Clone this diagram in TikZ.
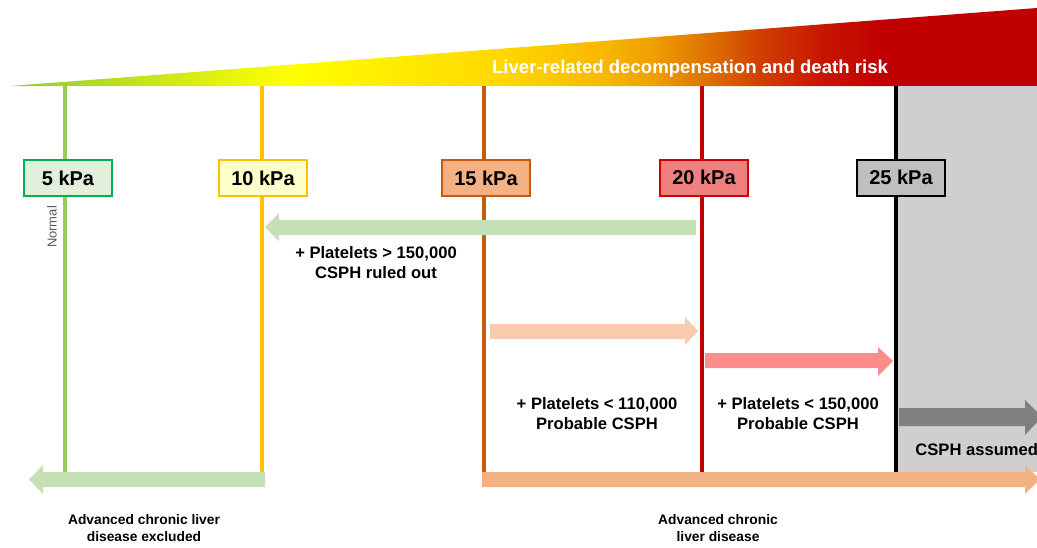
\documentclass[tikz,border=0pt]{standalone}
\usepackage{fontspec}
\setmainfont{Liberation Sans}
\definecolor{rsA}{HTML}{8CCB3C}
\definecolor{rsB}{HTML}{C8E41E}
\definecolor{rsC}{HTML}{FFFF00}
\definecolor{rsD}{HTML}{FFD800}
\definecolor{rsE}{HTML}{F8B800}
\definecolor{rsF}{HTML}{F0A000}
\definecolor{rsG}{HTML}{E07800}
\definecolor{rsH}{HTML}{D04000}
\definecolor{rsI}{HTML}{C81800}
\definecolor{rsJ}{HTML}{C00000}
\pgfdeclarehorizontalshading{riskshade}{100bp}{color(0bp)=(rsA); color(25bp)=(rsA); color(31.8bp)=(rsB); color(38.6bp)=(rsC); color(48.9bp)=(rsD); color(53.8bp)=(rsE); color(56.2bp)=(rsF); color(58.6bp)=(rsG); color(61.5bp)=(rsH); color(64.4bp)=(rsI); color(67.4bp)=(rsJ); color(100bp)=(rsJ)}
\definecolor{cgreen}{HTML}{92D050}
\definecolor{cyellow}{HTML}{FFC000}
\definecolor{cbrown}{HTML}{C55A11}
\definecolor{cred}{HTML}{C00000}
\definecolor{cgrayreg}{HTML}{D0CECE}
\definecolor{fgreen}{HTML}{E2EFDA}
\definecolor{dgreen}{HTML}{00B050}
\definecolor{fyellow}{HTML}{FFFFCC}
\definecolor{forange}{HTML}{F4B183}
\definecolor{fred}{HTML}{F08080}
\definecolor{dred}{HTML}{D00000}
\definecolor{fgray}{HTML}{BFBFBF}
\definecolor{agreen}{HTML}{C5E0B4}
\definecolor{apeach}{HTML}{F8CBAD}
\definecolor{apink}{HTML}{FF8B8B}
\definecolor{agray}{HTML}{808080}
\definecolor{aorange}{HTML}{F4B183}
\definecolor{tgray}{HTML}{595959}
\begin{document}
\begin{tikzpicture}[x=0.5pt,y=-0.5pt,
  kbox/.style={draw, line width=1pt, minimum width=44pt, minimum height=18pt, inner sep=0pt, font=\bfseries\fontsize{10}{12}\selectfont, text=black},
  vline/.style={line width=1.6pt},
  lbl/.style={align=center, font=\bfseries\fontsize{8.3}{10}\selectfont, inner sep=0pt},
  blbl/.style={align=center, font=\bfseries\fontsize{6.9}{8.5}\selectfont, inner sep=0pt}]
\useasboundingbox (0,0) rectangle (1037,547);
% risk wedge
\shade[shading=riskshade] (10,86) -- (1037,8) -- (1037,86) -- cycle;
\node[font=\bfseries\fontsize{9.3}{11}\selectfont, text=white, inner sep=0pt] (risk) at (690,69) {Liver-related decompensation and death risk};
% gray region
\fill[cgrayreg] (898,86) rectangle (1037,472);
% vertical lines
\coordinate (t5) at (65,86);  \coordinate (b5) at (65,472);
\coordinate (t10) at (262,86); \coordinate (b10) at (262,472);
\coordinate (t15) at (484,86); \coordinate (b15) at (484,472);
\coordinate (t20) at (702,86); \coordinate (b20) at (702,472);
\coordinate (t25) at (896,86); \coordinate (b25) at (896,472);
\draw[vline, cgreen] (t5) -- (b5);
\draw[vline, cyellow] (t10) -- (b10);
\draw[vline, cbrown] (t15) -- (b15);
\draw[vline, cred] (t20) -- (b20);
\draw[vline, black] (t25) -- (b25);
% boxes
\node[kbox, draw=dgreen, fill=fgreen] (k5) at (68,178) {5 kPa};
\node[kbox, draw=cyellow, fill=fyellow] (k10) at (263,178) {10 kPa};
\node[kbox, draw=cbrown, fill=forange] (k15) at (486,178) {15 kPa};
\node[kbox, draw=dred, fill=fred] (k20) at (704,177.5) {20 kPa};
\node[kbox, draw=black, fill=fgray] (k25) at (901,177.5) {25 kPa};
\node[rotate=90, font=\fontsize{6.5}{8}\selectfont, text=tgray, inner sep=0pt] (normal) at (52,227) {Normal};
% block arrows
\fill[agreen] (696,220) -- (279,220) -- (279,213) -- (265,227) -- (279,241) -- (279,235) -- (696,235) -- cycle;
\fill[apeach] (490,324) -- (685,324) -- (685,317) -- (698,331) -- (685,345) -- (685,339) -- (490,339) -- cycle;
\fill[apink] (705,353) -- (878,353) -- (878,347) -- (893,361) -- (878,376) -- (878,368) -- (705,368) -- cycle;
\fill[agray] (899,408) -- (1025,408) -- (1025,400) -- (1042,417) -- (1025,435) -- (1025,426) -- (899,426) -- cycle;
\fill[agreen] (265,472) -- (43,472) -- (43,465) -- (29,479.5) -- (43,494) -- (43,487) -- (265,487) -- cycle;
\fill[aorange] (482,472) -- (1025,472) -- (1025,465) -- (1040,479.5) -- (1025,494) -- (1025,487) -- (482,487) -- cycle;
% labels
\node[lbl] (ruled) at (376,263) {+ Platelets > 150,000\\CSPH ruled out};
\node[lbl] (p110) at (597,414) {+ Platelets < 110,000\\Probable CSPH};
\node[lbl] (p150) at (798,414) {+ Platelets < 150,000\\Probable CSPH};
\node[lbl, anchor=west] (assumed) at (915,450) {CSPH assumed};
\node[blbl] (excl) at (144,528) {Advanced chronic liver\\disease excluded};
\node[blbl] (acld) at (718,528) {Advanced chronic\\liver disease};
\end{tikzpicture}
\end{document}
